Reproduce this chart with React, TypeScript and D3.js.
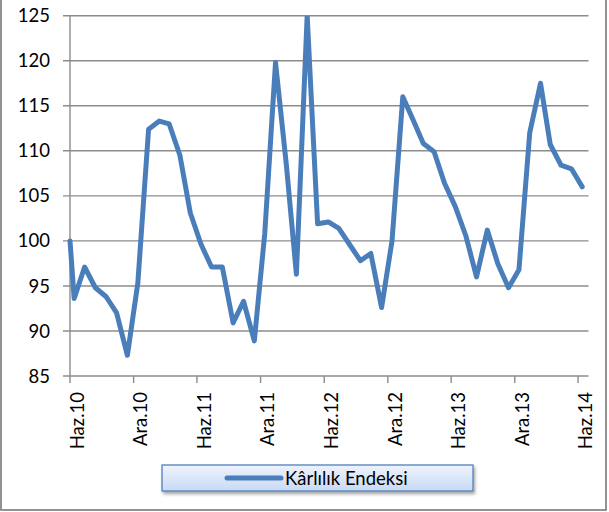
import React from "react";
import * as d3 from "d3";

const dates: string[] = [
  "2010-06-01", "2010-06-13", "2010-07-13", "2010-08-13", "2010-09-13", "2010-10-13", "2010-11-13", "2010-12-13",
  "2011-01-13", "2011-02-13", "2011-03-13", "2011-04-13", "2011-05-13", "2011-06-13", "2011-07-13", "2011-08-13",
  "2011-09-13", "2011-10-13", "2011-11-13", "2011-12-13", "2012-01-13", "2012-02-13", "2012-03-13", "2012-04-13",
  "2012-05-13", "2012-06-13", "2012-07-13", "2012-08-13", "2012-09-13", "2012-10-13", "2012-11-13", "2012-12-13",
  "2013-01-13", "2013-02-13", "2013-03-13", "2013-04-13", "2013-05-13", "2013-06-13", "2013-07-13", "2013-08-13",
  "2013-09-13", "2013-10-13", "2013-11-13", "2013-12-13", "2014-01-13", "2014-02-13", "2014-03-13", "2014-04-13",
  "2014-05-13", "2014-06-13",
];

const values: number[] = [
  100, 93.6, 97.1, 94.8, 93.8, 92.0, 87.3, 95.3,
  112.4, 113.3, 113.0, 109.5, 103.1, 99.6, 97.1, 97.1,
  90.9, 93.3, 88.9, 100.8, 119.8, 108.5, 96.3, 125.0,
  101.9, 102.1, 101.4, 99.6, 97.8, 98.6, 92.6, 100.0,
  116.0, 113.3, 110.8, 109.9, 106.4, 103.8, 100.6, 96.0,
  101.2, 97.5, 94.8, 96.8, 112.0, 117.5, 110.7, 108.4,
  108.0, 106.0,
];

const tickDates: string[] = [
  "2010-06-01", "2010-12-01", "2011-06-01", "2011-12-01", "2012-06-01",
  "2012-12-01", "2013-06-01", "2013-12-01", "2014-06-01",
];
const tickLabels: string[] = [
  "Haz.10", "Ara.10", "Haz.11", "Ara.11", "Haz.12", "Ara.12", "Haz.13", "Ara.13", "Haz.14",
];
const yTicks: number[] = [85, 90, 95, 100, 105, 110, 115, 120, 125];
const seriesName = "Kârlılık Endeksi";

const W = 609;
const H = 512;
const left = 70;
const right = 588.5;
const top = 15.7;
const bottom = 376;

const parse = (s: string) => {
  const [y, m, d] = s.split("-").map(Number);
  return new Date(y, m - 1, d);
};

export default function App() {
  const x = d3
    .scaleTime()
    .domain([parse("2010-06-01"), parse("2014-07-01")])
    .range([left, right]);
  const y = d3.scaleLinear().domain([85, 125]).range([bottom, top]);

  const pts = dates.map((d, i) => [x(parse(d)), y(values[i])] as [number, number]);
  const line = d3.line();
  const path = line(pts) || "";

  const font = "Lato, 'Open Sans', sans-serif";
  const fs = 18.5;
  const lineColor = "#4a7ebb";
  const gridColor = "#8c8c8c";

  return (
    <svg
      width={W}
      height={H}
      style={{ position: "absolute", left: 0, top: 0 }}
      fontFamily={font}
    >
      <defs>
        <linearGradient id="legGrad" x1="0" y1="0" x2="0" y2="1">
          <stop offset="0" stopColor="#eef3fd" />
          <stop offset="1" stopColor="#c9daf3" />
        </linearGradient>
        <filter id="shadow" x="-10%" y="-30%" width="120%" height="180%">
          <feDropShadow dx="1.5" dy="2.5" stdDeviation="1.5" floodColor="#000" floodOpacity="0.35" />
        </filter>
        <clipPath id="plotClip">
          <rect x={0} y={top} width={W} height={H - top} />
        </clipPath>
      </defs>
      <rect x={0} y={0} width={W} height={H} fill="#fff" />
      {/* outer border */}
      <rect x={1} y={-5} width={605} height={515} fill="none" stroke="#878787" strokeWidth={1.8} />

      {/* gridlines */}
      {yTicks.map((t) => (
        <line
          key={"g" + t}
          x1={left - 7}
          x2={right}
          y1={y(t)}
          y2={y(t)}
          stroke={gridColor}
          strokeWidth={1.4}
        />
      ))}
      {/* y axis line */}
      <line x1={left} x2={left} y1={top} y2={bottom} stroke={gridColor} strokeWidth={1.4} />
      {/* x axis ticks */}
      {tickDates.map((d) => (
        <line
          key={"t" + d}
          x1={x(parse(d))}
          x2={x(parse(d))}
          y1={bottom}
          y2={bottom + 7}
          stroke={gridColor}
          strokeWidth={1.4}
        />
      ))}

      {/* y labels */}
      {yTicks.map((t) => (
        <text key={"yl" + t} x={50} y={y(t) + 6.6} textAnchor="end" fontSize={fs} fill="#000">
          {t}
        </text>
      ))}
      {/* x labels */}
      {tickDates.map((d, i) => (
        <text
          key={"xl" + d}
          transform={`translate(${x(parse(d)) + 13.8},${392}) rotate(-90)`}
          textAnchor="end"
          fontSize={fs}
          fill="#000"
        >
          {tickLabels[i]}
        </text>
      ))}

      {/* series line */}
      <path
        d={path}
        fill="none"
        stroke={lineColor}
        strokeWidth={5}
        strokeLinejoin="round"
        strokeLinecap="round"
        clipPath="url(#plotClip)"
      />

      {/* legend */}
      <rect
        x={162}
        y={465}
        width={311}
        height={26}
        fill="url(#legGrad)"
        stroke="#4f81bd"
        strokeWidth={1.3}
        filter="url(#shadow)"
      />
      <line x1={227} x2={281} y1={478} y2={478} stroke={lineColor} strokeWidth={5} strokeLinecap="round" />
      <text x={285} y={484.8} fontSize={fs} fill="#000">
        {seriesName}
      </text>
    </svg>
  );
}
